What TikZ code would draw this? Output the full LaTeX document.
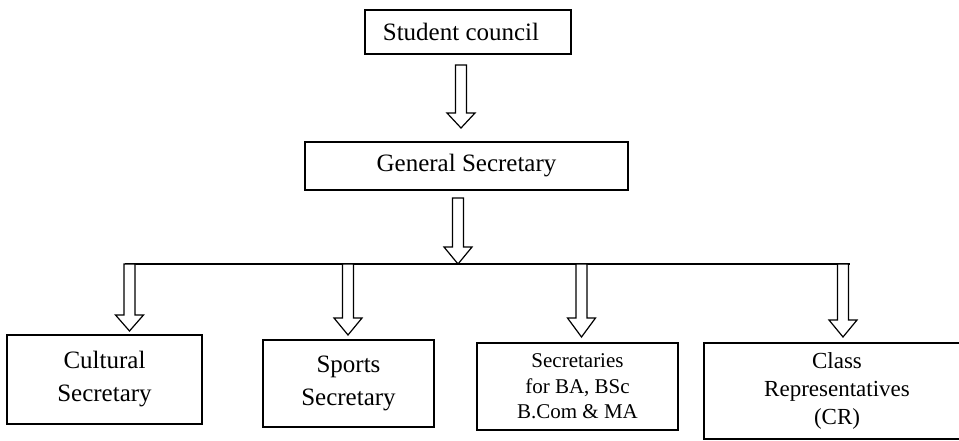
\documentclass[tikz,border=0pt]{standalone}
\usepackage{fontspec}
\setmainfont{Liberation Serif}
\tikzset{
  box/.style={draw, line width=1.3pt, inner sep=0pt, align=center, fill=white},
  blockarrow/.style={draw, line width=1.2pt, fill=white, line join=miter},
}
% hollow block arrow: #1 centre x, #2 top y, #3 head base y, #4 tip y
\newcommand\hollowarrow[4]{%
  \draw[blockarrow] (#1-5.5,#2) -- (#1+5.5,#2) -- (#1+5.5,#3) -- (#1+14,#3)
    -- (#1,#4) -- (#1-14,#3) -- (#1-5.5,#3) -- cycle;}
\begin{document}
\begin{tikzpicture}[x=1pt,y=-1pt]
\useasboundingbox (0,0) rectangle (959,441);
\node[box, minimum width=206pt, minimum height=44pt, font=\fontsize{25}{30}\selectfont]
  (sc) at (468,32) {\hspace*{-14pt}Student council};
\node[box, minimum width=323pt, minimum height=48pt, font=\fontsize{25}{30}\selectfont]
  (gs) at (466.5,166) {General Secretary};
\node[box, minimum width=195pt, minimum height=89pt, font=\fontsize{25}{33}\selectfont]
  (cs) at (104.5,379.5) {Cultural\\Secretary};
\node[box, minimum width=171pt, minimum height=87pt, font=\fontsize{25}{33}\selectfont]
  (ss) at (348.5,383.5) {Sports\\Secretary};
\node[box, minimum width=201pt, minimum height=87pt, font=\fontsize{21}{25.5}\selectfont]
  (ds) at (577.5,386.5) {Secretaries\\for BA, BSc\\B.Com \& MA};
\node[box, minimum width=266pt, minimum height=96pt, font=\fontsize{23}{28}\selectfont]
  (cr) at (837,391) {Class\\Representatives\\(CR)};
\coordinate (busL) at (125,264);
\coordinate (busR) at (850,264);
\draw[line width=1.3pt] (busL) -- (busR);
\hollowarrow{461}{65}{113}{128}
\hollowarrow{458}{198}{247}{264}
\hollowarrow{129.5}{264}{315}{331}
\hollowarrow{348}{264}{318}{335}
\hollowarrow{581.5}{264}{318}{337}
\hollowarrow{843}{264}{320}{337}
\end{tikzpicture}
\end{document}
